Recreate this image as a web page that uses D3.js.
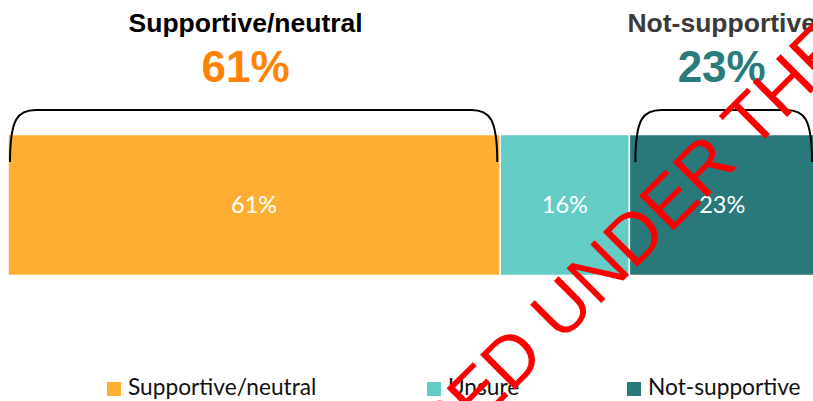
<!DOCTYPE html>
<html>
<head>
<meta charset="utf-8">
<script src="https://cdn.jsdelivr.net/npm/d3@7"></script>
<style>
    body { margin: 0; background: #fff; }
    svg { display: block; }
</style>
</head>
<body>
<div id="chart"></div>
<script>
// Data
const categories = ["Supportive/neutral", "Unsure", "Not-supportive"];
const values = [61, 16, 23];
const barColors = ["#FEAF33", "#62CCC5", "#29797A"];

// Summary groups above the bar (index of category in each group)
const groupLabels = ["Supportive/neutral", "Not-supportive"];
const groupMembers = [[0], [2]];
const groupColors = ["#FF8205", "#2A7B7A"];
const groupLabelColors = ["#000000", "#3A3A3A"];

const watermark = "RELEASED UNDER THE OFFICIAL INFORMATION ACT";

// Set size
const width = 813, height = 401;

const svg = d3.select("#chart")
    .append("svg")
    .attr("width", width)
    .attr("height", height)

// Scales
const x = d3.scaleLinear()
    .domain([0, 100])
    .range([8, 815]);

const barTop = 134.5, barBottom = 275.5;

// stack the values
let starts = [];
let acc = 0;
values.forEach(v => { starts.push(acc); acc += v; });

// Bars
svg.append("g")
    .selectAll("rect")
    .data(values)
    .join("rect")
    .attr("x", (d, i) => x(starts[i]))
    .attr("y", barTop)
    .attr("width", (d, i) => x(starts[i] + d) - x(starts[i]))
    .attr("height", barBottom - barTop)
    .attr("fill", (d, i) => barColors[i])
    .attr("stroke", "#ffffff")
    .attr("stroke-width", 1.5)

// Labels inside the bars
svg.append("g")
    .selectAll("text")
    .data(values)
    .join("text")
    .attr("x", (d, i) => x(starts[i] + d / 2))
    .attr("y", (barTop + barBottom) / 2 + 8)
    .attr("text-anchor", "middle")
    .style("font-family", "Lato, 'Open Sans', sans-serif")
    .style("font-size", "23.5px")
    .style("fill", "#ffffff")
    .text(d => d + "%")

// Brackets and group headers
groupLabels.forEach((label, g) => {
    const first = groupMembers[g][0];
    const last = groupMembers[g][groupMembers[g].length - 1];
    const total = d3.sum(groupMembers[g], i => values[i]);
    const x0 = x(starts[first]) + (g == 0 ? 2 : 6);
    const x1 = x(starts[last] + values[last]) - 3;
    const yTop = 110, yEnd = 162;

    svg.append("path")
        .attr("d", `M${x0},${yEnd} C${x0},${yTop + 8} ${x0 + 8},${yTop} ${x0 + 26},${yTop} `
            + `L${x1 - 26},${yTop} C${x1 - 8},${yTop} ${x1},${yTop + 8} ${x1},${yEnd}`)
        .attr("fill", "none")
        .attr("stroke", "#000")
        .attr("stroke-width", 2)

    const cx = (x0 + x1) / 2 + (g == 0 ? -8 : -2);

    svg.append("text")
        .attr("x", cx)
        .attr("y", 31.5)
        .attr("text-anchor", "middle")
        .style("font-family", "'Liberation Sans', Arial, sans-serif")
        .style("font-weight", "bold")
        .style("font-size", "26.5px")
        .style("fill", groupLabelColors[g])
        .text(label)

    svg.append("text")
        .attr("x", cx)
        .attr("y", 82)
        .attr("text-anchor", "middle")
        .style("font-family", "'Liberation Sans', Arial, sans-serif")
        .style("font-weight", "bold")
        .style("font-size", "44px")
        .style("fill", groupColors[g])
        .text(total + "%")
})

// LEGEND
const legendX = [107, 427, 627];
const legend = svg.append("g")
    .selectAll("g")
    .data(categories)
    .join("g")
    .attr("transform", (d, i) => `translate(${legendX[i]},382)`)

legend.append("rect")
    .attr("width", 14)
    .attr("height", 14)
    .attr("fill", (d, i) => barColors[i])

legend.append("text")
    .attr("x", 21)
    .attr("y", 13)
    .style("font-family", "Lato, 'Open Sans', sans-serif")
    .style("font-size", "22.7px")
    .style("fill", "#111")
    .text(d => d)

// Watermark stamp
svg.append("text")
    .attr("transform", "translate(279,625) rotate(-45)")
    .style("font-family", "'Liberation Sans', Arial, sans-serif")
    .style("font-size", "71px")
    .style("fill", "#FF0000")
    .text(watermark)
</script>
</body>
</html>
